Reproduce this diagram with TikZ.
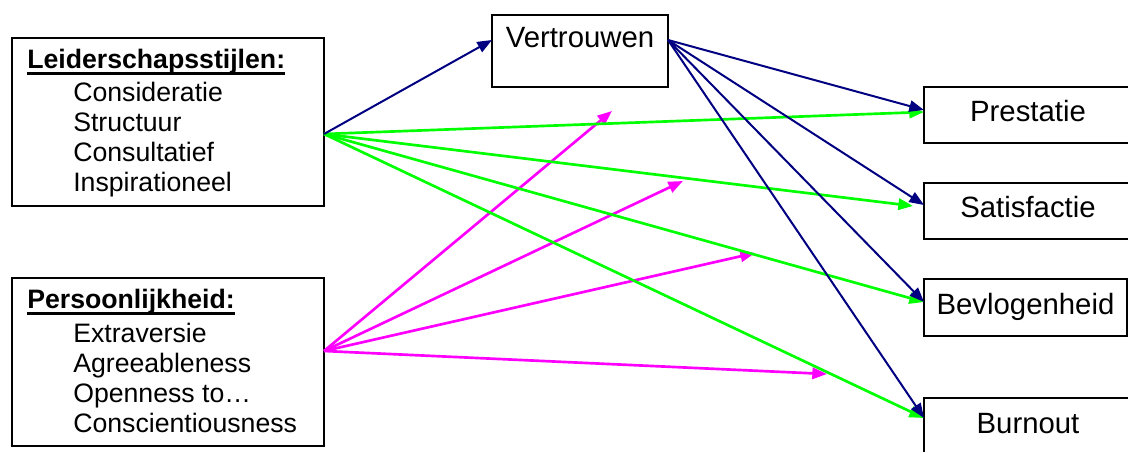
\documentclass[tikz,border=0pt]{standalone}
\usepackage{fontspec}
\setmainfont{Liberation Sans}
\usetikzlibrary{arrows.meta,calc}
\definecolor{navyline}{HTML}{000080}
\definecolor{greenline}{HTML}{00FF00}
\definecolor{magline}{HTML}{FF00FF}
% bold heading with a rule just under the baseline
\newcommand\ulhead[1]{\setbox0\hbox{\bfseries #1}\rlap{\vrule width\wd0 height -2.6pt depth 4.2pt}\box0}
\begin{document}
\begin{tikzpicture}[x=0.75pt,y=-0.75pt,
  font=\fontsize{22pt}{26pt}\selectfont,
  box/.style={draw=black,line width=1.5pt,inner sep=0pt,outer sep=0pt,fill=white},
  leftbox/.style={box,minimum width=234pt,minimum height=126pt},
  outbox/.style={box,minimum width=156pt,minimum height=42pt,text height=15pt,text depth=4.5pt},
  line/.style={inner sep=0pt,anchor=base west,font=\fontsize{20pt}{24pt}\selectfont},
  navyarrow/.style={draw=navyline,line width=1.5pt,-{Triangle[length=11pt,width=8.5pt]}},
  greenarrow/.style={draw=greenline,line width=2pt,-{Triangle[length=11pt,width=8.5pt]}},
  magarrow/.style={draw=magline,line width=2pt,-{Triangle[length=11pt,width=8.5pt]}}]
\useasboundingbox (0,0) rectangle (1128,452);
\clip (0,0) rectangle (1128,452);

% boxes
\node[leftbox] (lead) at (168,122) {};
\node[leftbox] (pers) at (168,362) {};
\node[box,minimum width=132pt,minimum height=54pt,text height=15pt,text depth=19.5pt] (vert) at (580,51) {Vertrouwen};
\node[outbox] (prest) at (1028,115) {Prestatie};
\node[outbox] (satis) at (1028,211) {Satisfactie};
\node[outbox,minimum width=152.25pt,minimum height=42.75pt] (bevl) at (1025.5,307.5) {Bevlogenheid};
\node[outbox] (burn) at (1028,426) {Burnout};

% box contents
\node[line] (leadhead) at (27,69) {\ulhead{Leiderschapsstijlen:}};
\node[line] (lead1) at (73,102) {Consideratie};
\node[line] (lead2) at (73,132) {Structuur};
\node[line] (lead3) at (73,162) {Consultatief};
\node[line] (lead4) at (73,192) {Inspirationeel};
\node[line] (pershead) at (27,309) {\ulhead{Persoonlijkheid:}};
\node[line] (pers1) at (73,342) {Extraversie};
\node[line] (pers2) at (73,372) {Agreeableness};
\node[line] (pers3) at (73,402) {Openness to…};
\node[line] (pers4) at (73,432) {Conscientiousness};

% connector end points
\coordinate (leadout) at ($(lead.east)+(0,12)$);
\coordinate (persout) at ($(pers.east)+(0,-11)$);
\coordinate (vertin) at ($(vert.west)+(0,-11)$);
\coordinate (vertout) at ($(vert.east)+(0,-11)$);
\coordinate (prestn) at ($(prest.west)+(0,-5)$);
\coordinate (prestg) at ($(prest.west)+(0,-3)$);
\coordinate (satisn) at ($(satis.west)+(0,-6)$);
\coordinate (satisg) at ($(satis.west)+(-11,-5)$);
\coordinate (bevlin) at ($(bevl.west)+(0,-5.5)$);
\coordinate (burnin) at ($(burn.west)+(0,-8)$);
\coordinate (m1) at (612,111);
\coordinate (m2) at (683,181);
\coordinate (m3) at (755,253);
\coordinate (m4) at (827,374);

% personality arrows
\draw[magarrow] (persout) -- (m1);
\draw[magarrow] (persout) -- (m2);
\draw[magarrow] (persout) -- (m3);
\draw[magarrow] (persout) -- (m4);

% leadership style arrows
\draw[greenarrow] (leadout) -- (prestg);
\draw[greenarrow] (leadout) -- (satisg);
\draw[greenarrow] (leadout) -- (bevlin);
\draw[greenarrow] (leadout) -- (burnin);

% trust arrows
\draw[navyarrow] (leadout) -- (vertin);
\draw[navyarrow] (vertout) -- (prestn);
\draw[navyarrow] (vertout) -- (satisn);
\draw[navyarrow] (vertout) -- (bevlin);
\draw[navyarrow] (vertout) -- (burnin);
\end{tikzpicture}
\end{document}
